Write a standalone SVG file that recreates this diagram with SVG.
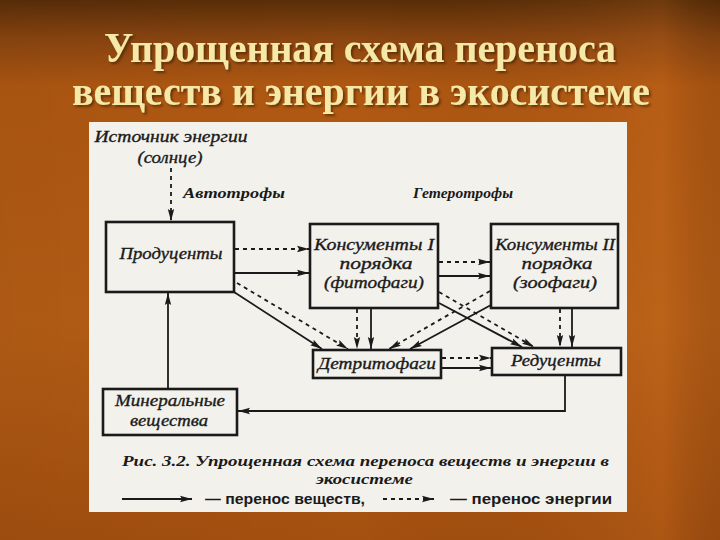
<svg xmlns="http://www.w3.org/2000/svg" width="720" height="540" viewBox="0 0 720 540">
<defs>
<linearGradient id="bg" x1="0" y1="0" x2="0" y2="1">
<stop offset="0" stop-color="#5a2e08"/>
<stop offset="0.07" stop-color="#8a4510"/>
<stop offset="0.16" stop-color="#b05812"/>
<stop offset="0.6" stop-color="#b65e16"/>
<stop offset="1" stop-color="#a45010"/>
</linearGradient>
<linearGradient id="side" x1="0" y1="0" x2="1" y2="0">
<stop offset="0" stop-color="#000" stop-opacity="0.05"/>
<stop offset="0.5" stop-color="#000" stop-opacity="0"/>
<stop offset="0.92" stop-color="#e07a2a" stop-opacity="0.15"/>
<stop offset="1" stop-color="#000" stop-opacity="0.08"/>
</linearGradient>
<filter id="shd" x="-5%" y="-20%" width="110%" height="140%">
<feDropShadow dx="2" dy="2" stdDeviation="1" flood-color="#3a1c04" flood-opacity="0.6"/>
</filter>
<marker id="ah" viewBox="0 0 12 8" refX="12" refY="4" markerWidth="12" markerHeight="8" markerUnits="userSpaceOnUse" orient="auto">
<path d="M0,0.8 L12,4 L0,7.2 L2,4 Z" fill="#1a1a1a"/>
</marker>
<style>
.t{font-family:"Liberation Serif","Times New Roman",serif;font-style:italic;font-size:17px;fill:#1a1a1a;stroke:#1a1a1a;stroke-width:0.35;text-anchor:middle}
.tb{font-family:"Liberation Serif","Times New Roman",serif;font-style:italic;font-weight:bold;font-size:15px;fill:#1a1a1a}
.lg{font-family:"Liberation Sans",Arial,sans-serif;font-weight:bold;font-size:14px;fill:#1a1a1a}
.box{fill:none;stroke:#1a1a1a;stroke-width:2.6}
.s{fill:none;stroke:#1a1a1a;stroke-width:1.8;marker-end:url(#ah)}
.e{fill:none;stroke:#1a1a1a;stroke-width:1.8;stroke-dasharray:4 4;marker-end:url(#ah)}
.title{font-family:"Liberation Serif","Times New Roman",serif;font-weight:bold;font-size:42px;fill:#f6e8a6;text-anchor:middle}
</style>
</defs>
<rect x="0" y="0" width="720" height="540" fill="url(#bg)"/>
<rect x="0" y="0" width="720" height="540" fill="url(#side)"/>

<g id="title" filter="url(#shd)">
<text class="title" x="360" y="62" textLength="512" lengthAdjust="spacingAndGlyphs">Упрощенная схема переноса</text>
<text class="title" x="361" y="105" textLength="578" lengthAdjust="spacingAndGlyphs">веществ и энергии в экосистеме</text>
</g>

<rect id="panel" x="89" y="122" width="538" height="390" fill="#f3f1ec"/>

<g id="source">
<text class="t" x="171" y="142" textLength="153" lengthAdjust="spacingAndGlyphs">Источник энергии</text>
<text class="t" x="170" y="163" textLength="65" lengthAdjust="spacingAndGlyphs">(солнце)</text>
</g>
<g id="labels">
<text class="tb" x="183" y="198" textLength="102" lengthAdjust="spacingAndGlyphs">Автотрофы</text>
<text class="tb" x="413" y="198" textLength="100" lengthAdjust="spacingAndGlyphs">Гетеротрофы</text>
</g>

<g id="producers">
<rect class="box" x="106" y="222" width="128" height="70"/>
<text class="t" x="171" y="259" textLength="103" lengthAdjust="spacingAndGlyphs">Продуценты</text>
</g>
<g id="consumers1">
<rect class="box" x="310" y="224" width="128" height="84"/>
<text class="t" x="374" y="250" textLength="120" lengthAdjust="spacingAndGlyphs">Консументы I</text>
<text class="t" x="376" y="269" textLength="73" lengthAdjust="spacingAndGlyphs">порядка</text>
<text class="t" x="374" y="288" textLength="100" lengthAdjust="spacingAndGlyphs">(фитофаги)</text>
</g>
<g id="consumers2">
<rect class="box" x="491" y="224" width="127" height="84"/>
<text class="t" x="555" y="250" textLength="120" lengthAdjust="spacingAndGlyphs">Консументы II</text>
<text class="t" x="557" y="269" textLength="71" lengthAdjust="spacingAndGlyphs">порядка</text>
<text class="t" x="555" y="288" textLength="84" lengthAdjust="spacingAndGlyphs">(зоофаги)</text>
</g>
<g id="detritophages">
<rect class="box" x="313" y="350" width="128" height="28"/>
<text class="t" x="377" y="369" textLength="118" lengthAdjust="spacingAndGlyphs">Детритофаги</text>
</g>
<g id="reducers">
<rect class="box" x="492" y="348" width="129" height="27"/>
<text class="t" x="556" y="366" textLength="90" lengthAdjust="spacingAndGlyphs">Редуценты</text>
</g>
<g id="minerals">
<rect class="box" x="103" y="389" width="134" height="46"/>
<text class="t" x="170" y="406" textLength="110" lengthAdjust="spacingAndGlyphs">Минеральные</text>
<text class="t" x="169" y="426" textLength="78" lengthAdjust="spacingAndGlyphs">вещества</text>
</g>

<g id="connectors">
<path class="e" d="M171,168 L171,221"/>
<path class="e" d="M235,249 L309,249"/>
<path class="s" d="M235,273 L309,273"/>
<path class="e" d="M439,262 L490,262"/>
<path class="s" d="M439,276 L490,276"/>
<path class="s" d="M234,292 L322,349"/>
<path class="e" d="M237,283 L348,349"/>
<path class="e" d="M357,309 L357,349"/>
<path class="s" d="M371,309 L371,349"/>
<path class="e" d="M490,291 L389,349"/>
<path class="s" d="M491,305 L410,349"/>
<path class="e" d="M439,292 L534,347"/>
<path class="s" d="M439,303 L522,347"/>
<path class="e" d="M560,309 L560,347"/>
<path class="s" d="M572,309 L572,347"/>
<path class="e" d="M442,358 L491,358"/>
<path class="s" d="M442,368 L491,368"/>
<path class="s" d="M565,376 L565,411 L238,411"/>
<path class="s" d="M168,388 L168,293"/>
</g>

<g id="caption">
<text class="tb" x="122" y="466" textLength="487" lengthAdjust="spacingAndGlyphs">Рис. 3.2. Упрощенная схема переноса веществ и энергии в</text>
<text class="tb" x="316" y="484" textLength="97" lengthAdjust="spacingAndGlyphs">экосистеме</text>
</g>
<g id="legend">
<path class="s" d="M122,499 L192,499"/>
<text class="lg" x="205" y="504" textLength="160" lengthAdjust="spacingAndGlyphs">— перенос веществ,</text>
<path class="e" d="M383,499 L434,499"/>
<text class="lg" x="450" y="504" textLength="162" lengthAdjust="spacingAndGlyphs">— перенос энергии</text>
</g>
</svg>
